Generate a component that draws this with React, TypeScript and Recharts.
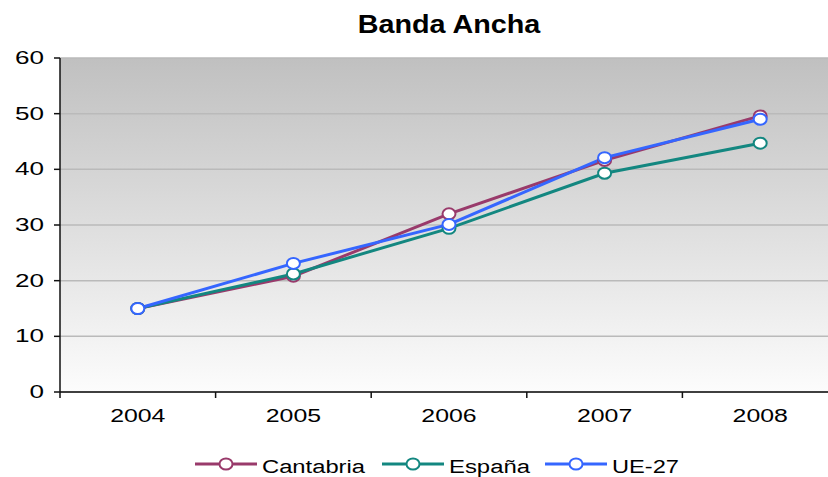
import { CartesianGrid, Line, LineChart, XAxis, YAxis } from "recharts";

const years = ["2004", "2005", "2006", "2007", "2008"];
const cantabria = [15, 20.8, 32, 41.6, 49.6];
const espana = [15, 21.2, 29.4, 39.3, 44.7];
const ue27 = [15, 23.1, 30.1, 42.1, 49];
const yTicks = [0, 10, 20, 30, 40, 50, 60];

const series = [
  { key: "cantabria", name: "Cantabria", color: "#993a6b" },
  { key: "espana", name: "España", color: "#138780" },
  { key: "ue27", name: "UE-27", color: "#3566ff" },
];

const data = years.map((year, i) => ({
  year,
  pos: i + 0.5,
  cantabria: cantabria[i],
  espana: espana[i],
  ue27: ue27[i],
}));

const FONT = '"Liberation Sans", Arial, sans-serif';

function HollowDot(props: any) {
  const { cx, cy, stroke } = props;
  if (cx == null || cy == null) return null;
  return <ellipse cx={cx} cy={cy} rx={6.5} ry={5.5} fill="#fff" stroke={stroke} strokeWidth={2} />;
}

function YTick(props: any) {
  const { x, y, payload } = props;
  return (
    <text
      transform={`translate(${x},${y}) scale(1.45,1)`}
      textAnchor="end"
      dy={6}
      fontSize={18}
      fontFamily={FONT}
      fill="#000"
    >
      {payload.value}
    </text>
  );
}

function XTick(props: any) {
  const { x, y, payload, width } = props;
  const i = payload.value;
  if (i >= years.length) return null;
  const half = (width || 778) / years.length / 2;
  return (
    <text
      transform={`translate(${x + half},${y}) scale(1.38,1)`}
      textAnchor="middle"
      dy={22}
      fontSize={18}
      fontFamily={FONT}
      fill="#000"
    >
      {years[i]}
    </text>
  );
}

const legendX = [195, 382, 545];
const legendText = [103, 81, 67];

export default function App() {
  return (
    <div
      style={{
        position: "absolute",
        left: 0,
        top: 0,
        width: 828,
        height: 477,
        overflow: "hidden",
        background: "#fff",
        fontFamily: FONT,
      }}
    >
      <div
        style={{
          position: "absolute",
          top: 12,
          left: 449,
          transform: "translateX(-50%) scaleX(1.15)",
          fontSize: 25,
          fontWeight: "bold",
          lineHeight: 1,
          whiteSpace: "nowrap",
        }}
      >
        Banda Ancha
      </div>
      <LineChart
        width={840}
        height={477}
        data={data}
        margin={{ top: 58, right: 2, bottom: 40, left: 0 }}
      >
        <defs>
          <linearGradient id="plotBg" x1="0" y1="0" x2="0" y2="1">
            <stop offset="0%" stopColor="#c0c0c0" />
            <stop offset="100%" stopColor="#fcfcfc" />
          </linearGradient>
        </defs>
        <CartesianGrid vertical={false} stroke="#bababa" strokeWidth={1.5} fill="url(#plotBg)" />
        <XAxis
          dataKey="pos"
          type="number"
          domain={[0, 5]}
          ticks={[0, 1, 2, 3, 4, 5]}
          interval={0}
          height={45}
          axisLine={{ stroke: "#111", strokeWidth: 1.5 }}
          tickLine={{ stroke: "#111", strokeWidth: 1.5 }}
          tickSize={6}
          tick={<XTick />}
        />
        <YAxis
          domain={[0, 60]}
          ticks={yTicks}
          width={60}
          interval={0}
          axisLine={{ stroke: "#111", strokeWidth: 1.5 }}
          tickLine={{ stroke: "#111", strokeWidth: 1.5 }}
          tickSize={6}
          tickMargin={10}
          tick={<YTick />}
        />
        {series.map((s) => (
          <Line
            key={s.key}
            dataKey={s.key}
            name={s.name}
            stroke={s.color}
            strokeWidth={3}
            dot={<HollowDot stroke={s.color} />}
            activeDot={false}
            isAnimationActive={false}
          />
        ))}
      </LineChart>
      <svg
        width={828}
        height={27}
        style={{ position: "absolute", left: 0, top: 450 }}
      >
        {series.map((s, i) => (
          <g key={s.key}>
            <line
              x1={legendX[i]}
              x2={legendX[i] + 62}
              y1={14}
              y2={14}
              stroke={s.color}
              strokeWidth={3}
            />
            <ellipse cx={legendX[i] + 31} cy={14} rx={6.5} ry={5.5} fill="#fff" stroke={s.color} strokeWidth={2} />
            <text
              x={legendX[i] + 67}
              y={23}
              fontSize={18}
              fontFamily={FONT}
              textLength={legendText[i]}
              lengthAdjust="spacingAndGlyphs"
              fill="#000"
            >
              {s.name}
            </text>
          </g>
        ))}
      </svg>
    </div>
  );
}
